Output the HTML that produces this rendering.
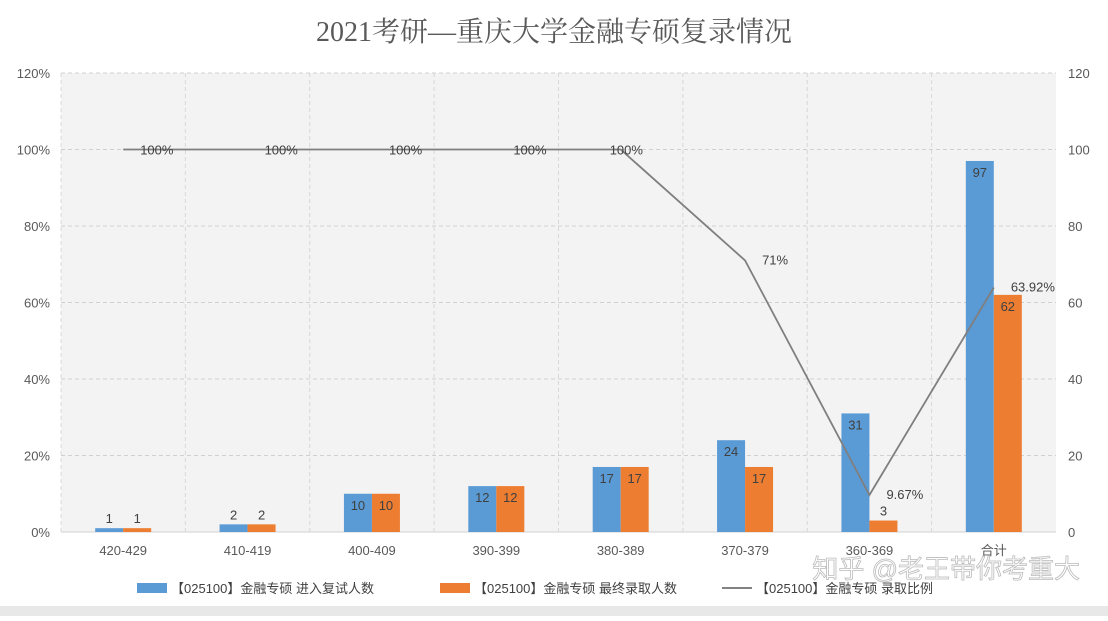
<!DOCTYPE html>
<html><head><meta charset="utf-8"><style>
body{margin:0;width:1108px;height:616px;background:#fff;font-family:"Liberation Sans","Noto Sans CJK SC",sans-serif;overflow:hidden}
</style></head><body>
<svg id="c" width="1108" height="616" xmlns="http://www.w3.org/2000/svg">
<rect x="0" y="0" width="1108" height="616" fill="#fff"/>
<rect x="0" y="606" width="1108" height="10" fill="#e8e8e8"/>
<text x="554" y="41" text-anchor="middle" font-size="28" fill="#595959" font-family="Liberation Serif,Noto Serif CJK SC,serif">2021考研—重庆大学金融专硕复录情况</text>
<rect x="61" y="73" width="995" height="459" fill="#f3f3f3"/>
<g id="grid"></g><g id="bars"></g><g id="line"></g><g id="labels"></g>
<g font-size="13" fill="#404040">
<rect x="137" y="583" width="30" height="10" fill="#5b9bd5"/>
<text x="171" y="593">【025100】金融专硕 进入复试人数</text>
<rect x="440" y="583" width="30" height="10" fill="#ed7d31"/>
<text x="474" y="593">【025100】金融专硕 最终录取人数</text>
<line x1="722" y1="588" x2="752" y2="588" stroke="#595959" stroke-width="1.5"/>
<text x="756" y="593">【025100】金融专硕 录取比例</text>
</g>
<text x="1080" y="578" text-anchor="end" font-size="26" fill="#fff" stroke="#bbb" stroke-width="0.8">知乎 @老王带你考重大</text>
</svg>
<script>
const categories=["420-429","410-419","400-409","390-399","380-389","370-379","360-369","合计"];
const interviewCounts=[1,2,10,12,17,24,31,97];
const admittedCounts=[1,2,10,12,17,17,3,62];
const ratios=[1,1,1,1,1,0.71,0.0967,0.6392];
const ratioLabels=["100%","100%","100%","100%","100%","71%","9.67%","63.92%"];
const leftTicks=["0%","20%","40%","60%","80%","100%","120%"];
const rightTicks=["0","20","40","60","80","100","120"];
const NS="http://www.w3.org/2000/svg";
const L=61,R=1056,T=73,B=532;
const bw=(R-L)/categories.length;
const xc=i=>L+bw*(i+0.5);
const yR=v=>B-(v/120)*(B-T);
const yP=v=>B-(v/1.2)*(B-T);
function mk(tag,attrs,parent,txt){const e=document.createElementNS(NS,tag);for(const k in attrs)e.setAttribute(k,attrs[k]);if(txt!==undefined)e.textContent=txt;document.getElementById(parent).appendChild(e);return e;}
const g='grid';
leftTicks.forEach((t,i)=>{const y=B-i*(B-T)/6;
 const l=mk('line',{x1:L,x2:R,y1:y,y2:y,stroke:'#d0d0d0','stroke-dasharray':i==0?'':'4,3'},g);
 
 const a=mk('text',{x:50,y:y+5,'text-anchor':'end','font-size':13,fill:'#595959'},g,t);
 
 const b=mk('text',{x:1068,y:y+5,'font-size':13,fill:'#595959'},g,rightTicks[i]);
 });
categories.forEach((c,i)=>{
 const vl=mk('line',{x1:L+bw*i,x2:L+bw*i,y1:T,y2:B,stroke:'#d8d8d8','stroke-dasharray':'4,3'},g);
 
 const t=mk('text',{x:xc(i),y:555,'text-anchor':'middle','font-size':13,fill:'#595959'},g,c);
 
 const w=28;
 const b1=mk('rect',{x:xc(i)-w,y:yR(interviewCounts[i]),width:w,height:B-yR(interviewCounts[i]),fill:'#5b9bd5'},'bars');
 
 const b2=mk('rect',{x:xc(i),y:yR(admittedCounts[i]),width:w,height:B-yR(admittedCounts[i]),fill:'#ed7d31'},'bars');
 
 const tall1=B-yR(interviewCounts[i])>20,tall2=B-yR(admittedCounts[i])>20;
 const l1=mk('text',{x:xc(i)-w/2,y:tall1?yR(interviewCounts[i])+16:yR(interviewCounts[i])-5,'text-anchor':'middle','font-size':13,fill:'#404040'},'labels',interviewCounts[i]);
 
 const l2=mk('text',{x:xc(i)+w/2,y:tall2?yR(admittedCounts[i])+16:yR(admittedCounts[i])-5,'text-anchor':'middle','font-size':13,fill:'#404040'},'labels',admittedCounts[i]);
 
 const dx=i==4?-11:17;
 const dy=i>=5?4:5;
 const rl=mk('text',{x:xc(i)+dx,y:yP(ratios[i])+dy,'font-size':13,fill:'#404040'},'labels',ratioLabels[i]);
 
});
const pts=ratios.map((v,i)=>xc(i)+','+yP(v)).join(' ');
const pl=mk('polyline',{points:pts,fill:'none',stroke:'#7f7f7f','stroke-width':1.8},'line');

</script>
</body></html>
